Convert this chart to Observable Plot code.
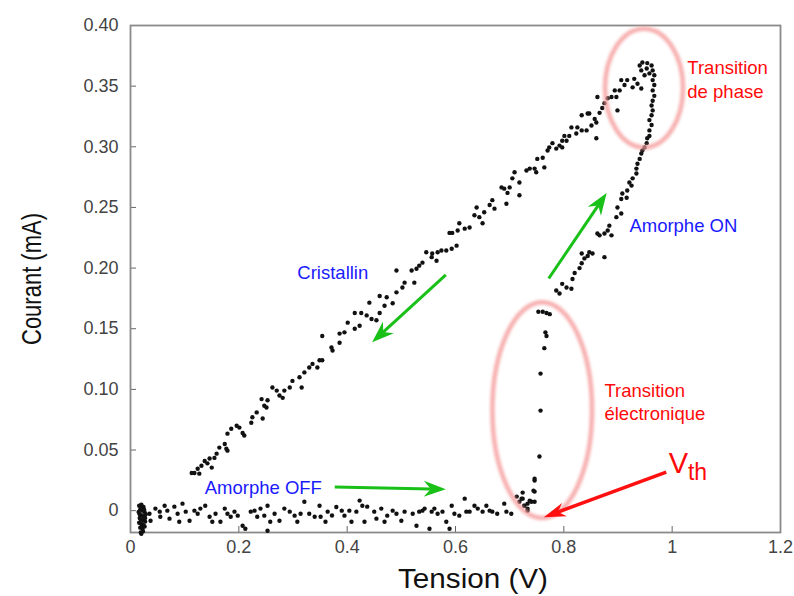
<!DOCTYPE html>
<html><head><meta charset="utf-8">
<script src="https://cdn.jsdelivr.net/npm/d3@7"></script>
<script src="https://cdn.jsdelivr.net/npm/@observablehq/plot@0.6"></script>
<style>body{margin:0;background:#fff;font-family:"Liberation Sans",Arial,sans-serif}</style>
</head><body><div id="chart"></div>
<script>
// Tick values and labels
const xTicks = [0, 0.2, 0.4, 0.6, 0.8, 1, 1.2];
const xTickLabels = ["0", "0.2", "0.4", "0.6", "0.8", "1", "1.2"];
const yTicks = [0, 0.05, 0.10, 0.15, 0.20, 0.25, 0.30, 0.35, 0.40];
const yTickLabels = ["0", "0.05", "0.10", "0.15", "0.20", "0.25", "0.30", "0.35", "0.40"];

// Amorphe OFF branch (tension V, courant mA)
const offV = [0.016,0.020,0.024,0.018,0.022,0.026,0.017,0.021,0.025,0.019,0.023,0.027,0.016,0.020,0.024,0.018,0.022,0.026,0.019,0.023,0.021,0.025,0.017,0.027,0.020,0.028,0.015,
0.035,0.037,0.046,0.054,0.055,0.063,0.068,0.072,0.081,0.087,0.090,0.096,0.102,0.109,0.118,0.124,0.129,0.138,0.146,0.151,0.157,0.166,0.174,0.179,0.185,0.192,0.198,0.207,0.212,0.222,0.229,0.234,0.240,0.247,0.253,0.258,0.253,0.266,0.275,0.284,0.294,0.303,0.308,0.314,0.321,0.330,0.340,0.349,0.351,0.360,0.364,0.372,0.380,
0.390,0.395,0.404,0.408,0.417,0.423,0.428,0.432,0.437,0.450,0.454,0.463,0.469,0.474,0.484,0.491,0.500,0.506,0.521,0.528,0.533,0.539,0.543,0.552,0.556,0.561,0.567,0.576,0.583,0.589,0.593,0.598,0.607,0.617,0.620,0.626,0.635,0.641,0.650,0.657,0.663,0.668,0.677,0.690,0.694,0.703,0.713,0.718,0.724,0.727,0.733,0.740,0.746,0.733];
const offI = [0.004,0.005,0.003,0.001,0.000,-0.001,-0.003,-0.004,-0.005,-0.007,-0.008,-0.006,-0.010,-0.011,-0.012,-0.014,-0.015,-0.013,-0.018,-0.017,0.002,0.001,-0.006,-0.009,-0.019,-0.003,-0.001,
-0.0025,-0.0083,0.0017,-0.0008,-0.005,0.0041,0.000,-0.0066,0.0033,-0.0025,-0.0091,0.0058,-0.0008,-0.0083,0.000,-0.0025,0.0017,0.0041,-0.005,-0.0091,-0.0025,-0.0091,0.0017,-0.0025,-0.005,-0.0008,-0.0041,-0.0124,-0.0149,-0.0008,0.000,-0.005,0.0017,-0.0041,0.0041,-0.0091,-0.0165,-0.0025,-0.0083,0.0017,-0.0008,-0.0041,-0.0091,-0.0025,0.0074,-0.0025,-0.005,0.0041,-0.005,-0.0091,-0.0008,-0.004,0.003,
0.000,-0.0041,0.000,-0.0091,-0.0008,0.0083,0.0041,-0.0091,0.0033,-0.0008,-0.0066,0.0017,-0.0091,-0.0041,0.000,-0.0025,-0.0083,-0.0008,-0.0025,-0.0124,-0.0008,0.000,0.0017,-0.0149,-0.0008,0.0017,-0.0025,-0.0008,-0.0091,-0.0149,0.0041,-0.0025,-0.0041,0.0099,-0.0008,-0.0008,0.0041,0.0017,-0.0008,0.0041,0.000,-0.0008,-0.0025,0.0058,-0.0008,-0.0025,0.0116,0.0074,0.0099,0.0041,0.0058,0.0074,0.0074,0.000];

// Transition électronique
const elecV = [0.746,0.746,0.753,0.761,0.768,0.774,0.766,0.768,0.764,0.757,0.757,0.755,0.746,0.744,0.737,0.724,0.727,0.722,0.733];
const elecI = [0.0157,0.0248,0.164,0.164,0.163,0.162,0.147,0.144,0.134,0.113,0.0825,0.0446,0.0264,0.0165,0.0083,0.0149,0.0041,0.0099,0.0017];

// Amorphe ON branch and transition de phase
const onV = [0.786,0.792,0.797,0.805,0.814,0.816,0.820,0.829,0.833,0.838,0.833,0.844,0.847,0.853,0.875,0.862,0.866,0.875,0.881,0.884,0.888,0.897,0.899,0.906,0.906,0.908,0.916,0.917,0.925,0.921,0.927,0.934,0.934,0.936,0.940,0.943,0.945,0.949,0.953,0.954,0.958,0.958,0.962,0.958,0.962,0.964,0.962,0.964,0.967,0.964,0.967,0.964,0.967,0.964,0.962,0.954,0.945,0.953,0.958,0.949,0.940,0.943,0.936,0.943,0.930,0.927,0.917,0.912,0.906,0.903,0.894,0.888,0.897,0.881,0.875,0.871,0.862,0.899,0.866,0.857,0.844,0.833,0.860,0.825,0.833,0.842,0.823,0.814,0.810,0.801,0.805,0.797,0.792,0.786,0.779,0.770,0.761,0.764,0.860,0.847,0.851];
const onI = [0.1815,0.179,0.187,0.184,0.183,0.191,0.196,0.200,0.204,0.208,0.212,0.210,0.213,0.212,0.209,0.2285,0.227,0.2285,0.231,0.235,0.227,0.242,0.250,0.245,0.257,0.2615,0.258,0.264,0.268,0.2705,0.274,0.278,0.282,0.286,0.290,0.2945,0.297,0.2995,0.303,0.307,0.309,0.3135,0.318,0.322,0.326,0.330,0.334,0.338,0.342,0.3465,0.351,0.355,0.359,0.363,0.367,0.369,0.3695,0.3645,0.3605,0.359,0.367,0.363,0.352,0.348,0.356,0.349,0.355,0.351,0.355,0.3465,0.3465,0.341,0.341,0.340,0.336,0.332,0.341,0.330,0.328,0.323,0.3275,0.326,0.320,0.316,0.3135,0.3135,0.311,0.316,0.309,0.309,0.305,0.305,0.301,0.2985,0.303,0.297,0.291,0.283,0.307,0.3275,0.3175];

// Cristallin branch
const crisV = [0.773,0.797,0.751,0.746,0.737,0.731,0.749,0.709,0.705,0.718,0.685,0.690,0.696,0.700,0.718,0.694,0.668,0.663,0.672,0.653,0.639,0.635,0.644,0.650,0.626,0.617,0.607,0.604,0.594,0.589,0.602,0.593,0.583,0.574,0.567,0.557,0.546,0.556,0.565,0.539,0.533,0.528,0.519,0.491,0.506,0.524,0.502,
0.491,0.460,0.473,0.441,0.469,0.484,0.460,0.414,0.426,0.436,0.445,0.454,0.401,0.423,0.414,0.395,0.386,0.354,0.386,0.371,0.373,0.349,0.354,0.336,0.330,0.345,0.321,0.312,0.299,0.316,0.294,0.284,0.262,0.270,0.275,0.281,0.242,0.253,0.251,0.247,0.233,0.225,0.223,0.244,0.196,0.201,0.186,0.179,0.207,0.210,0.174,0.164,0.177,0.159,0.155,0.146,0.142,0.137,0.179,0.131,0.124,0.118,0.127,0.113,0.150];
const crisI = [0.2995,0.2995,0.290,0.282,0.282,0.2805,0.279,0.279,0.274,0.2705,0.2665,0.2655,0.262,0.2665,0.260,0.253,0.256,0.252,0.249,0.246,0.250,0.2435,0.242,0.237,0.2335,0.2325,0.237,0.231,0.229,0.229,0.2185,0.216,0.2145,0.2145,0.213,0.212,0.213,0.209,0.206,0.2045,0.202,0.1995,0.198,0.198,0.188,0.188,0.184,
0.180,0.177,0.176,0.1715,0.169,0.171,0.163,0.163,0.163,0.161,0.158,0.157,0.155,0.1525,0.150,0.147,0.146,0.144,0.1385,0.1345,0.132,0.124,0.124,0.121,0.118,0.118,0.114,0.110,0.107,0.1015,0.1015,0.099,0.1015,0.099,0.095,0.093,0.092,0.091,0.085,0.0865,0.081,0.077,0.0725,0.076,0.070,0.0685,0.0675,0.0635,0.064,0.062,0.055,0.052,0.051,0.047,0.0435,0.043,0.039,0.041,0.0495,0.037,0.0345,0.031,0.0305,0.031,0.0355];

// Annotation texts
const noteText = ["Cristallin", "Amorphe OFF", "Amorphe ON", "Transition", "de phase", "Transition", "électronique"];
const noteV = [0.308, 0.137, 0.921, 1.028, 1.028, 0.875, 0.875];
const noteI = [0.1955, 0.019, 0.235, 0.3645, 0.3455, 0.099, 0.0795];
const noteColor = ["#1a1aff", "#1a1aff", "#1a1aff", "#ff0a0a", "#ff0a0a", "#ff0a0a", "#ff0a0a"];

// V_th label position (baseline, data units)
const vthV = 1.03;
const vthI = 0.0305;

// Arrows (start -> end)
const arrV1 = [0.378, 0.773, 0.583, 0.99];
const arrI1 = [0.019, 0.191, 0.194, 0.0313];
const arrV2 = [0.583, 0.880, 0.447, 0.764];
const arrI2 = [0.0173, 0.2615, 0.1385, -0.0058];
const arrColor = ["#18c018", "#18c018", "#18c018", "#ff1010"];

// Highlight ellipses (centre and radii in data units)
const ellV = [0.949, 0.761];
const ellI = [0.348, 0.0825];
const ellRV = [0.072, 0.092];
const ellRI = [0.049, 0.089];

const points = [
  ...offV.map((v, k) => ({v, i: offI[k]})),
  ...elecV.map((v, k) => ({v, i: elecI[k]})),
  ...onV.map((v, k) => ({v, i: onI[k]})),
  ...crisV.map((v, k) => ({v, i: crisI[k]}))
];
const notes = noteText.map((t, k) => ({t, v: noteV[k], i: noteI[k], c: noteColor[k]}));

const chart = Plot.plot({
  width: 794, height: 596,
  marginLeft: 130, marginRight: 14, marginTop: 25, marginBottom: 64,
  style: {fontFamily: "Liberation Sans, Arial, sans-serif", fontSize: "18px", color: "#444", background: "#fff", overflow: "visible"},
  x: {domain: [0, 1.2]},
  y: {domain: [-0.018, 0.40]},
  marks: [
    Plot.axisX({ticks: xTicks, tickFormat: d => xTickLabels[xTicks.indexOf(d)], tickSize: -6, tickPadding: 14, label: null, stroke: "#666", fontSize: 18}),
    Plot.axisY({ticks: yTicks, tickFormat: d => yTickLabels[yTicks.indexOf(d)], tickSize: -6, tickPadding: 18, label: null, stroke: "#666", fontSize: 18}),
    Plot.frame({stroke: "#8a8a8a", strokeWidth: 1.8}),
    Plot.dot(points, {x: "v", y: "i", r: 2.2, fill: "#111", stroke: "none"}),
    Plot.text(notes, {x: "v", y: "i", text: "t", fill: "c", textAnchor: "start", fontSize: 18.5})
  ]
});
document.getElementById("chart").appendChild(chart);

// Extra annotations drawn with the plot's own scales
const sx = chart.scale("x"), sy = chart.scale("y");
const svg = d3.select(chart);
const defs = svg.append("defs");
defs.append("filter").attr("id", "blur").attr("x", "-20%").attr("y", "-20%").attr("width", "140%").attr("height", "140%")
  .append("feGaussianBlur").attr("stdDeviation", 1.6);

const g = svg.append("g");
ellV.forEach((v, k) => {
  const cx = sx.apply(v), cy = sy.apply(ellI[k]);
  const rx = sx.apply(v + ellRV[k]) - cx, ry = cy - sy.apply(ellI[k] + ellRI[k]);
  g.append("ellipse").attr("cx", cx).attr("cy", cy).attr("rx", rx).attr("ry", ry)
    .attr("fill", "none").attr("stroke", "#f59a9a").attr("stroke-width", 4.5).attr("opacity", 0.8).attr("filter", "url(#blur)");
});

arrV1.forEach((v, k) => {
  const x1 = sx.apply(v), y1 = sy.apply(arrI1[k]), x2 = sx.apply(arrV2[k]), y2 = sy.apply(arrI2[k]);
  const a = Math.atan2(y2 - y1, x2 - x1);
  const L = 22, W = k === 3 ? 7 : 8, N = 7;
  const ux = Math.cos(a), uy = Math.sin(a), px = -uy, py = ux;
  const bx = x2 - ux * L, by = y2 - uy * L;
  g.append("line").attr("x1", x1).attr("y1", y1).attr("x2", x2 - ux * (L - N)).attr("y2", y2 - uy * (L - N))
    .attr("stroke", arrColor[k]).attr("stroke-width", k === 3 ? 3.5 : 3);
  g.append("path").attr("d", `M${x2},${y2}L${bx + px * W},${by + py * W}L${x2 - ux * (L - N)},${y2 - uy * (L - N)}L${bx - px * W},${by - py * W}Z`)
    .attr("fill", arrColor[k]);
});

// V_th label
const vt = g.append("text").attr("x", sx.apply(vthV)).attr("y", sy.apply(vthI))
  .attr("fill", "#ff0a0a").attr("font-size", 29).attr("font-family", "Liberation Sans, Arial, sans-serif");
vt.append("tspan").text("V");
vt.append("tspan").attr("dy", 7).attr("font-size", 23).text("th");

// Axis titles
svg.append("text").attr("transform", "translate(41,279) rotate(-90)").attr("text-anchor", "middle")
  .attr("font-size", 28).attr("fill", "#111").attr("textLength", 132).attr("lengthAdjust", "spacingAndGlyphs")
  .attr("font-family", "Liberation Sans, Arial, sans-serif").text("Courant (mA)");
svg.append("text").attr("x", 473).attr("y", 588).attr("text-anchor", "middle")
  .attr("font-size", 28).attr("fill", "#111").attr("textLength", 150).attr("lengthAdjust", "spacingAndGlyphs")
  .attr("font-family", "Liberation Sans, Arial, sans-serif").text("Tension (V)");
</script>
</body></html>
